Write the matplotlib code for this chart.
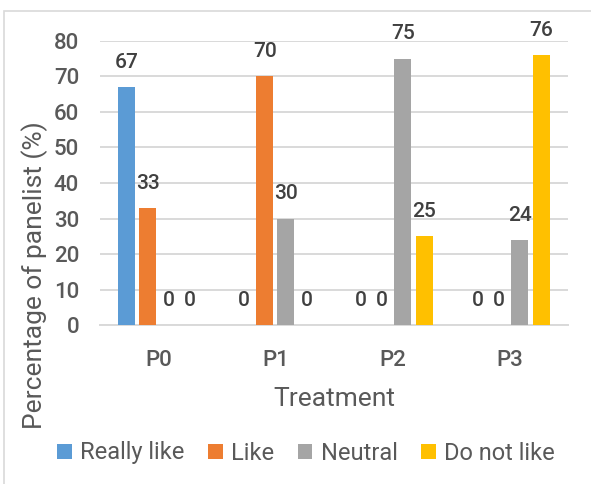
import numpy as np
import matplotlib.pyplot as plt
from matplotlib.patches import Rectangle

# panel preference per treatment (%)
treatments = ["P0", "P1", "P2", "P3"]
series_names = ["Really like", "Like", "Neutral", "Do not like"]
really_like = [67, 0, 0, 0]
like = [33, 70, 0, 0]
neutral = [0, 30, 75, 24]
do_not_like = [0, 0, 25, 76]

colors = ["#5B9BD5", "#ED7D31", "#A5A5A5", "#FFC000"]

plt.rcParams['font.family'] = ['Roboto', 'DejaVu Sans']
text_color = "#404040"
tick_color = "#595959"

fig = plt.figure(figsize=(5.91, 4.84), dpi=100)
ax = fig.add_axes([0.169, 0.3285, 0.792, 0.5868])

# light frame around the chart area
fig.patches.append(Rectangle((4 / 591, -0.1), 1.2, 1 - 11 / 484 + 0.1,
                             transform=fig.transFigure, fill=False,
                             edgecolor="#D9D9D9", linewidth=1.2))

x = np.arange(len(treatments))
width = 0.145
step = 0.18
all_values = [really_like, like, neutral, do_not_like]

for i, (name, vals) in enumerate(zip(series_names, all_values)):
    pos = x + (i - 1.5) * step
    bars = ax.bar(pos, vals, width, color=colors[i], label=name, zorder=3)
    for b, v in zip(bars, vals):
        ax.annotate(str(v), (b.get_x() + b.get_width() / 2, v),
                    xytext=(0, 11), textcoords="offset points",
                    ha="center", va="bottom", fontsize=15,
                    fontweight="medium", color=text_color)

ax.set_xlim(-0.5, 3.5)
ax.set_ylim(0, 80)
ax.set_yticks(range(0, 81, 10))
ax.set_xticks(x)
ax.set_xticklabels(treatments)
ax.tick_params(axis="both", length=0, labelsize=16, colors=tick_color)
ax.tick_params(axis="x", pad=18)
ax.tick_params(axis="y", pad=15)
for lbl in ax.get_xticklabels() + ax.get_yticklabels():
    lbl.set_fontweight("medium")

ax.grid(axis="y", color="#D9D9D9", linewidth=1.4, zorder=0)
for side in ["top", "right", "left"]:
    ax.spines[side].set_visible(False)
ax.spines["bottom"].set_color("#D9D9D9")
ax.spines["bottom"].set_linewidth(1.4)

# axis titles placed in figure coordinates
fig.text(334 / 591, 1 - 399 / 484, "Treatment", fontsize=19,
         color=tick_color, ha="center", va="center")
fig.text(35 / 591, 1 - 275 / 484, "Percentage of panelist (%)", fontsize=19,
         color=tick_color, ha="center", va="center", rotation=90)

leg = fig.legend(loc="center", bbox_to_anchor=(306 / 591, 1 - 453 / 484),
                 ncol=4, frameon=False, fontsize=17,
                 handlelength=0.62, handleheight=0.62,
                 handletextpad=0.35, columnspacing=1.0)
for t in leg.get_texts():
    t.set_color(tick_color)

fig.savefig("out.png", dpi=100)
